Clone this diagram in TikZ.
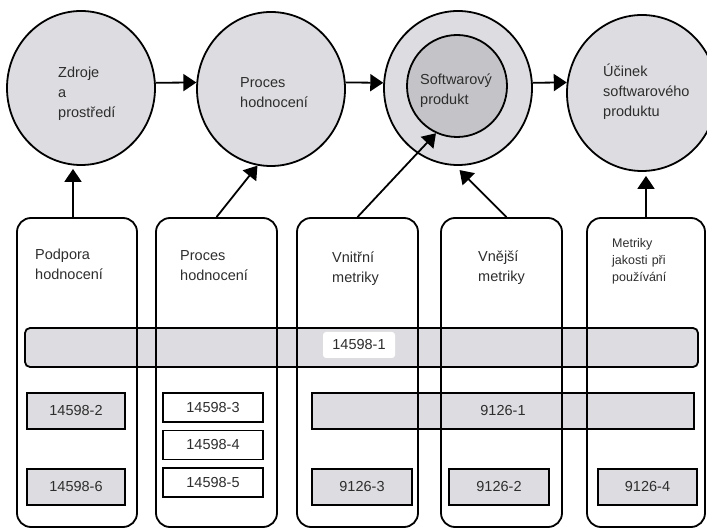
\documentclass[tikz,border=0pt]{standalone}
\usepackage{fontspec}
\setmainfont{Liberation Sans}
\usetikzlibrary{shapes.geometric,arrows.meta,calc}
\definecolor{lightfill}{RGB}{221,221,225}
\definecolor{darkfill}{RGB}{196,196,200}
\definecolor{ink}{RGB}{45,45,45}

\begin{document}
\begin{tikzpicture}[x=1pt,y=-1pt,
  every node/.style={text=ink},
  stage/.style={ellipse, draw, line width=1.8pt, fill=lightfill,
    minimum width=148pt, minimum height=154pt, inner sep=0pt},
  core/.style={ellipse, draw, line width=1.8pt, fill=darkfill,
    minimum width=100pt, minimum height=102pt, inner sep=0pt},
  column/.style={draw, line width=1.8pt, rounded corners=14pt,
    minimum width=121pt, minimum height=309pt, inner sep=0pt},
  band/.style={draw, line width=1.8pt, fill=lightfill, inner sep=0pt},
  stdbox/.style={draw, line width=1.8pt, fill=lightfill, inner sep=0pt,
    minimum width=98pt, minimum height=36pt,
    font=\fontsize{14.5}{16}\selectfont},
  partbox/.style={draw, line width=1.8pt, fill=white, inner sep=0pt,
    minimum width=100pt, minimum height=29pt,
    font=\fontsize{14.5}{16}\selectfont},
  txt/.style={anchor=base west, inner sep=0pt, text width=120pt, align=left,
    font=\fontsize{14.5}{20}\selectfont},
  smalltxt/.style={anchor=base west, inner sep=0pt, text width=100pt, align=left,
    font=\fontsize{12.5}{17}\selectfont},
  link/.style={line width=1.8pt, -{Triangle[length=13pt,width=17pt]}}
]
\useasboundingbox (0,0) rectangle (707,529);

% stages of the evaluation
\node[stage] (res) at (81,88) {};
\node[stage] (proc) at (271,89) {};
\node[stage] (prod) at (458,88) {};
\node[core] (sw) at (457,86) {};
\node[stage, minimum width=150pt, minimum height=156pt] (eff) at (642,93) {};

\node[txt] at (58,78) {Zdroje\\a\\prostředí};
\node[txt] at (240,88) {Proces\\hodnocení};
\node[txt] at (420,85) {Softwarový\\produkt};
\node[txt] at (603,77) {Účinek\\softwarového\\produktu};

\draw[link] (res.4) -- (proc.175);
\draw[link] (proc.5) -- (prod.176);
\draw[link] (prod.4) -- (eff.172);

% horizontal standards bands
\node[band, rounded corners=5pt, minimum width=673pt, minimum height=39pt] (b1) at (361.5,347.5) {};
\node[band, minimum width=382pt, minimum height=36pt,
  font=\fontsize{14.5}{16}\selectfont] (b9) at (503,411) {9126-1};

% columns of the model
\node[column, minimum width=120pt] (colA) at (77,372.5) {};
\node[column] (colB) at (216.5,372.5) {};
\node[column] (colC) at (357.5,372.5) {};
\node[column] (colD) at (501.5,372.5) {};
\node[column, minimum width=118pt] (colE) at (646,372.5) {};

\node[txt] at (35,260) {Podpora\\hodnocení};
\node[txt] at (180,261) {Proces\\hodnocení};
\node[txt] at (332,263) {Vnitřní\\metriky};
\node[txt] at (478,262) {Vnější\\metriky};
\node[smalltxt] at (612,248) {Metriky\\jakosti při\\používání};

% label of the common band
\node[fill=white, rounded corners=3pt, minimum width=72pt, minimum height=26pt,
  inner sep=0pt, font=\fontsize{14.5}{16}\selectfont] (l1) at (359,345) {14598-1};

% individual parts
\node[stdbox] (p2) at (76,411) {14598-2};
\node[stdbox] (p6) at (76,487) {14598-6};
\node[partbox] (p3) at (213,407.5) {14598-3};
\node[partbox] (p4) at (213,445) {14598-4};
\node[partbox] (p5) at (213,482.5) {14598-5};
\node[stdbox, minimum width=100pt] (q3) at (362,487) {9126-3};
\node[stdbox, minimum width=100pt] (q2) at (499,487) {9126-2};
\node[stdbox, minimum width=99pt] (q4) at (647.5,487) {9126-4};

% links from columns to stages
\draw[link, shorten >=3pt] ([xshift=-4pt]colA.north) -- ([xshift=-4pt]colA.north |- res.south);
\draw[link] (colB.north) -- (proc.260);
\draw[link] (colC.north) -- (sw.246);
\draw[link, shorten >=6pt] ([xshift=5pt]colD.north) -- (prod.268);
\draw[link, shorten >=4pt] (colE.north) -- (colE.north |- eff.south);
\end{tikzpicture}
\end{document}
